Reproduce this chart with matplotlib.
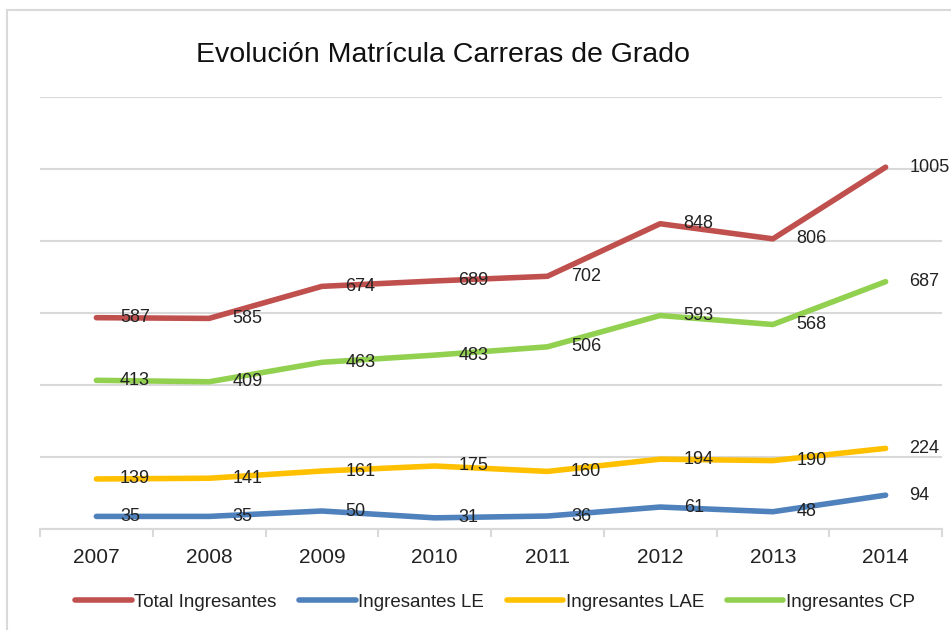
import matplotlib.pyplot as plt
from matplotlib.lines import Line2D
import numpy as np

plt.rcParams['font.family'] = ['Liberation Sans', 'DejaVu Sans']

years = ['2007', '2008', '2009', '2010', '2011', '2012', '2013', '2014']
total = [587, 585, 674, 689, 702, 848, 806, 1005]
le = [35, 35, 50, 31, 36, 61, 48, 94]
lae = [139, 141, 161, 175, 160, 194, 190, 224]
cp = [413, 409, 463, 483, 506, 593, 568, 687]

series = [
    ('Total Ingresantes', total, '#C0504D'),
    ('Ingresantes LE', le, '#4F81BD'),
    ('Ingresantes LAE', lae, '#FFC000'),
    ('Ingresantes CP', cp, '#92D050'),
]

W, H = 951, 630
fig = plt.figure(figsize=(W / 100, H / 100), dpi=100)

# outer chart frame (cropped on right/bottom)
fig.add_artist(Line2D([7 / W, 7 / W], [0, 1 - 10 / H], transform=fig.transFigure,
                      color='#D9D9D9', lw=1.5))
fig.add_artist(Line2D([7 / W, 1], [1 - 10 / H, 1 - 10 / H], transform=fig.transFigure,
                      color='#D9D9D9', lw=1.5))

ax = fig.add_axes([40 / W, (H - 529) / H, 902 / W, (529 - 97) / H])
x = np.arange(len(years))

for name, vals, col in series:
    ax.plot(x, vals, color=col, lw=4, solid_capstyle='round', solid_joinstyle='round',
            label=name, zorder=3)
    for xi, v in zip(x, vals):
        ax.annotate(str(v), (xi, v), xytext=(17, 0), textcoords='offset points',
                    ha='left', va='center', fontsize=13, color='#222222', zorder=4)

ax.set_xlim(-0.5, len(years) - 0.5)
ax.set_ylim(0, 1200)
ax.set_yticks(np.arange(0, 1201, 200))
ax.yaxis.grid(True, color='#D9D9D9', lw=1.5)
ax.set_axisbelow(True)
ax.tick_params(axis='y', left=False, labelleft=False)

ax.set_xticks(x)
ax.set_xticklabels(years, fontsize=15, color='#222222')
ax.tick_params(axis='x', which='major', length=0, pad=14)
ax.set_xticks(np.arange(-0.5, len(years)), minor=True)
ax.tick_params(axis='x', which='minor', length=6, width=1.5, color='#D9D9D9')

for s in ['top', 'right', 'left']:
    ax.spines[s].set_visible(False)
ax.spines['bottom'].set_color('#D9D9D9')
ax.spines['bottom'].set_linewidth(1.5)

fig.text(443 / W, 1 - 55 / H, 'Evolución Matrícula Carreras de Grado',
         ha='center', va='center', fontsize=20.5, color='#111111')

fig.legend(loc='center', bbox_to_anchor=(495 / W, 1 - 602 / H), ncol=4, frameon=False,
           fontsize=13.5, handlelength=3.0, handletextpad=0.15, columnspacing=1.2,
           labelcolor='#222222')

fig.savefig('out.png', dpi=100)
